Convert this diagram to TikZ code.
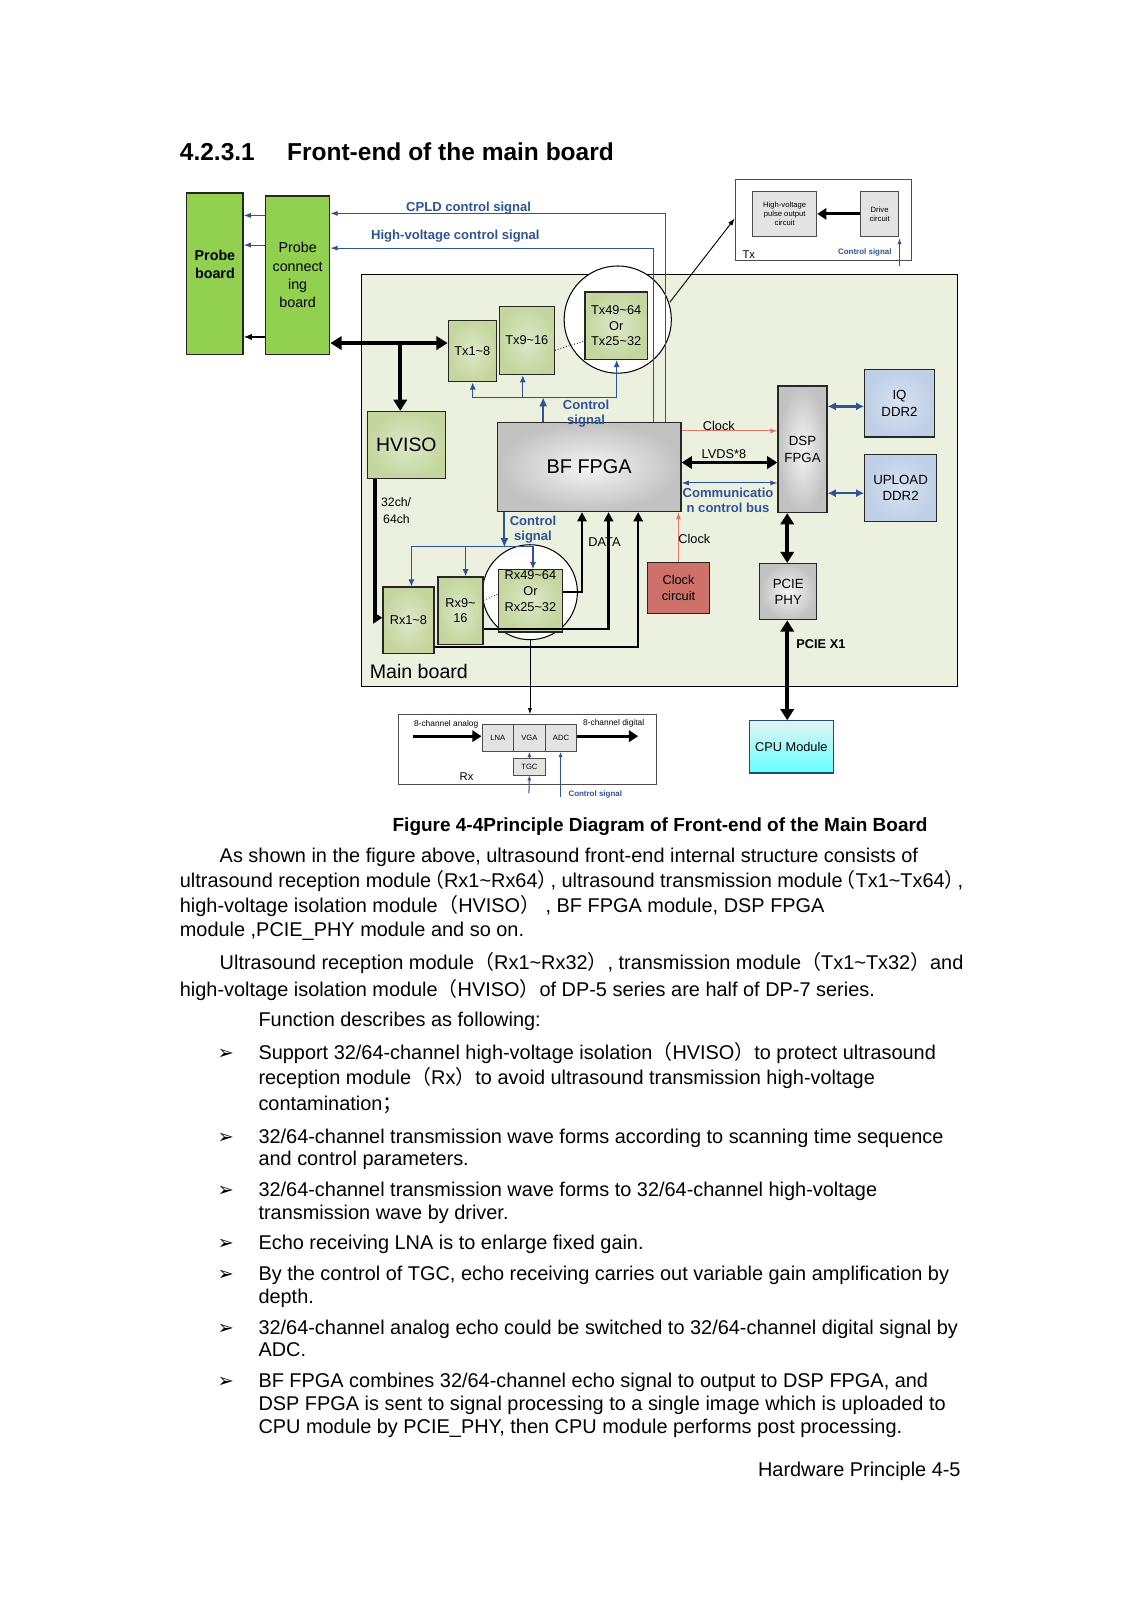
\documentclass[tikz,border=0pt]{standalone}
\usepackage{fontspec}
\setmainfont{Liberation Sans}
\newfontfamily\cjk{Noto Sans CJK SC}
\newfontfamily\dejavu{DejaVu Sans}
\usetikzlibrary{arrows.meta}
\newcommand\fs[2]{\fontsize{#1}{#2}\selectfont}
\newcommand\tld{\textasciitilde}
\newcommand\lp{{\cjk （}}
\newcommand\rp{{\cjk ）}}
\newcommand\lpt{{\cjk\kern-0.35em （}}
\newcommand\rpt{{\cjk ）\kern-0.35em}}
\newcommand\scl{{\cjk ；}}
\newcommand\bx[7]{\node[#6, minimum width={(#4)-(#2)}, minimum height={(#5)-(#3)}] (#1) at ({((#2)+(#4))/2},{((#3)+(#5))/2}) {#7};}
\definecolor{sigblue}{RGB}{47,84,150}
\definecolor{pgreen}{RGB}{146,208,80}
\definecolor{oin}{RGB}{222,232,203}
\definecolor{oout}{RGB}{196,214,158}
\definecolor{mainbg}{RGB}{235,241,222}
\definecolor{clkred}{RGB}{206,113,106}
\definecolor{clkline}{RGB}{222,120,110}
\definecolor{ddrin}{RGB}{216,227,242}
\definecolor{ddrout}{RGB}{190,207,230}
\definecolor{cputop}{RGB}{226,244,244}
\definecolor{cpubot}{RGB}{100,255,255}
\definecolor{cpuline}{RGB}{31,73,125}
\begin{document}
\begin{tikzpicture}[x=1pt,y=-1pt,
  blk/.style={draw=black!85, line width=1.2, inner sep=1pt, align=center, font=\fs{12.5}{15.5}},
  ol/.style={blk, inner color=oin, outer color=oout},
  gr/.style={blk, inner color=gray!8, outer color=gray!48},
  pg/.style={blk, fill=pgreen, font=\fs{14}{18}},
  ddr/.style={blk, inner color=ddrin, outer color=ddrout, font=\fs{13}{16}},
  small/.style={draw=black!70, line width=0.8, fill=gray!22, inner sep=0.5pt, align=center, font=\fs{7.5}{9}},
  lab/.style={inner sep=0, align=center, font=\fs{12.5}{15}},
  blab/.style={inner sep=0, align=center, font=\fs{12.8}{15}\bfseries, text=sigblue},
  bl/.style={draw=sigblue, line width=1},
  blk2/.style={draw=black, line width=1.1},
  thk/.style={draw=black, line width=3.5},
  ah/.tip={Triangle[width=13pt,length=11pt]},
  bodytxt/.style={inner sep=0, anchor=base west, font=\fs{19.5}{23}},
  bul/.style={inner sep=0, anchor=base west, font=\dejavu\fs{19}{22}}]
\path[use as bounding box, fill=white] (0,0) rectangle (1109,1568);

% heading
\node[inner sep=0, anchor=base west, font=\fs{24}{28}\bfseries] (h1) at (176,157.5) {4.2.3.1};
\node[inner sep=0, anchor=base west, font=\fs{24}{28}\bfseries] (h2) at (281,157.5) {Front-end of the main board};

% main board
\bx{mb}{354}{269}{938}{672}{draw=black, line width=1.1, fill=mainbg}{}
\node[inner sep=0, anchor=west, font=\fs{19.2}{22}] (mbl) at (362,658) {Main board};

% probe boards
\bx{pb}{183}{189}{238}{347}{pg}{}
\node[inner sep=0, align=center, font=\fs{14}{18}\bfseries] (pbl) at (210.5,259) {Probe\\board};
\bx{pcb}{260}{192}{323}{347}{pg}{Probe\\connect\\ing\\board}

% Tx detail box
\bx{txb}{720}{176}{893}{255}{draw=black!70, line width=0.9, fill=white}{}
\bx{hvp}{737}{187}{800}{232}{small}{High-voltage\\pulse output\\circuit}
\bx{drv}{843}{187}{880}{232}{small}{Drive\\circuit}
\draw[line width=3, -{Triangle[width=11pt,length=9pt]}] (drv.west) -- (hvp.east);
\node[inner sep=0, anchor=west, font=\fs{11}{13}] (txl) at (727,249) {Tx};
\node[inner sep=0, font=\fs{7.8}{9}\bfseries, text=sigblue] (txcs) at (847,247) {Control signal};
\coordinate (txcin) at (881,261);
\draw[bl, -{Latex[length=6pt,width=4pt]}] (txcin) -- (881,233);

% Tx blocks
\node[draw=black, line width=1, fill=white, circle, minimum size=105, inner sep=0] (txc) at (605,313) {};
\bx{tx1}{439}{314}{486}{374}{ol}{Tx1\tld8}
\bx{tx9}{489}{300}{543}{367}{ol}{Tx9\tld16}
\bx{tx49}{573}{286}{634}{352}{ol}{Tx49\tld64\\Or\\Tx25\tld32}
\draw[black, line width=0.8, dotted] (tx9.east |- 0,343) -- (tx49.west |- 0,334);
\coordinate (txcl) at (656,296);
\draw[black, line width=0.9, -{Latex[length=7pt,width=5pt]}] (txcl) -- (txb.west |- 0,214);

% HVISO, BF FPGA
\bx{hviso}{360}{403}{436}{469}{ol, font=\fs{19}{22}}{HVISO}
\bx{bf}{487}{414}{667}{501}{gr, font=\fs{19.5}{22}}{BF FPGA}
\bx{dsp}{762}{378}{810}{502}{gr, font=\fs{13}{16}}{DSP\\FPGA}
\bx{iq}{847}{362}{915}{428}{ddr}{IQ\\DDR2}
\bx{upd}{847}{445}{917}{511}{ddr}{UPLOAD\\DDR2}
\bx{clk}{634}{551}{695}{601}{blk, fill=clkred}{Clock\\circuit}
\bx{pcie}{744}{552}{800}{607}{gr, font=\fs{13}{16}}{PCIE\\PHY}
\bx{cpu}{734}{706}{816}{757}{draw=cpuline, line width=1.2, top color=cputop, bottom color=cpubot, inner sep=0, font=\fs{12.5}{15}}{CPU Module}

% Rx blocks
\node[draw=black, line width=1, fill=white, circle, minimum size=93, inner sep=0] (rxc) at (519,580) {};
\bx{rx1}{375}{575}{425}{640}{ol}{Rx1\tld8}
\bx{rx9}{429}{565}{473}{631}{ol}{Rx9\tld\\16}
\bx{rx49}{488}{558}{551}{619}{ol}{}
\node[inner sep=0, align=center, font=\fs{12.5}{15.5}] (rx49l) at (519.5,579) {Rx49\tld64\\Or\\Rx25\tld32};
\draw[black, line width=0.8, dotted] (rx9.east |- 0,588) -- (rx49.west |- 0,582);

% probe links
\draw[bl, -{Latex[length=7pt,width=5pt]}] (pcb.west |- 0,211) -- (pb.east |- 0,211);
\draw[bl, -{Latex[length=7pt,width=5pt]}] (pcb.west |- 0,240) -- (pb.east |- 0,240);
\draw[blk2, -{Latex[length=8pt,width=6pt]}] (pcb.west |- 0,330) -- (pb.east |- 0,330);

% CPLD and HV control signals
\draw[bl, -{Latex[length=7pt,width=5pt]}] (bf.north -| 652,0) -- (652,209) -- (pcb.east |- 0,209);
\draw[bl, -{Latex[length=7pt,width=5pt]}] (bf.north -| 640,0) -- (640,243) -- (pcb.east |- 0,243);
\node[blab] (cpl) at (459,203.5) {CPLD control signal};
\node[blab] (hvl) at (446,231) {High-voltage control signal};

% thick bus to Tx and HVISO
\draw[thk, ah-ah] (pcb.east |- 0,336) -- (tx1.west |- 0,336);
\coordinate (brn) at (392,336);
\draw[thk, -ah] (brn) -- (hviso.north -| brn);

% Tx control signal
\draw[bl, line width=2, -{Latex[length=9pt,width=8pt]}] (bf.north -| 532,0) -- (532,389);
\draw[bl, {Latex[length=7pt,width=6pt]}-{Latex[length=7pt,width=6pt]}] (tx1.south -| 463,0) |- (604,389) -- (tx49.south -| 604,0);
\draw[bl, -{Latex[length=7pt,width=6pt]}] (512,389) -- (tx9.south -| 512,0);
\node[blab] (tcs) at (574,405) {Control\\signal};

% BF <-> DSP
\draw[draw=clkline, line width=1, -{Latex[length=7pt,width=5pt]}] (bf.east |- 0,422) -- (dsp.west |- 0,422);
\node[lab] (clk1) at (704,417) {Clock};
\draw[black, line width=3, {Triangle[width=12pt,length=10pt]}-{Triangle[width=12pt,length=10pt]}] (bf.east |- 0,453) -- (dsp.west |- 0,453);
\node[lab] (lvds) at (709,445) {LVDS*8};
\draw[bl, {Latex[length=7pt,width=5pt]}-{Latex[length=7pt,width=5pt]}] (bf.east |- 0,473) -- (dsp.west |- 0,473);
\node[blab] (ccb) at (713,490) {Communicatio\\n control bus};

% DSP <-> DDR
\draw[bl, line width=2.2, {Latex[length=8pt,width=8pt]}-{Latex[length=8pt,width=8pt]}] (dsp.east |- 0,398) -- (iq.west |- 0,398);
\draw[bl, line width=2.2, {Latex[length=8pt,width=8pt]}-{Latex[length=8pt,width=8pt]}] (dsp.east |- 0,483) -- (upd.west |- 0,483);

% DSP <-> PCIE <-> CPU
\draw[thk, ah-ah] (dsp.south -| 771,0) -- (pcie.north -| 771,0);
\draw[thk, ah-ah] (pcie.south -| 771,0) -- (cpu.north -| 771,0);
\node[inner sep=0, font=\fs{12.5}{15}\bfseries] (px1) at (804,631) {PCIE X1};

% clock circuit
\draw[draw=clkline, line width=1, -{Latex[length=7pt,width=5pt]}] (clk.north) -- (bf.south -| clk.north);
\node[lab] (clk2) at (680,528) {Clock};

% HVISO -> Rx
\draw[thk, -{Triangle[width=11pt,length=9pt]}] (hviso.south -| 367,0) |- (rx1.west |- 0,605);
\node[inner sep=0, align=left, font=\fs{12}{16}] (chl) at (388,500) {32ch/\\\,64ch};

% Rx control signal
\draw[bl, line width=2, -{Latex[length=9pt,width=8pt]}] (bf.south -| 494,0) -- (494,536);
\draw[bl, {Latex[length=7pt,width=6pt]}-{Latex[length=7pt,width=6pt]}] (rx1.north -| 403,0) |- (522,535) -- (rx49.north -| 522,0);
\draw[bl, -{Latex[length=7pt,width=6pt]}] (456,535) -- (rx9.north -| 456,0);
\node[blab] (rcs) at (522,519) {Control\\signal};

% DATA lines
\draw[black, line width=2.2, -{Triangle[width=9pt,length=9pt]}] (rx49.east |- 0,580) -| (bf.south -| 570,0);
\draw[black, line width=2.2, -{Triangle[width=9pt,length=9pt]}] (rx9.east |- 0,616) -| (bf.south -| 596,0);
\draw[black, line width=2.2, -{Triangle[width=9pt,length=9pt]}] (rx1.east |- 0,634) -| (bf.south -| 625,0);
\node[lab] (data) at (592,531) {DATA};

% Rx detail box
\bx{rxb}{390}{700}{643}{768}{draw=black!70, line width=0.9, fill=white}{}
\draw[black, line width=0.8, -{Latex[length=6pt,width=4pt]}] (rxc.south) -- (rxb.north -| rxc.south);
\bx{lna}{472}{709}{503}{736}{small}{LNA}
\bx{vga}{503}{709}{534}{736}{small}{VGA}
\bx{adc}{534}{709}{565}{736}{small}{ADC}
\bx{tgc}{503}{743}{534}{759}{small}{TGC}
\coordinate (ain) at (404,721);
\coordinate (dout) at (625,721);
\draw[line width=3, -{Triangle[width=11pt,length=9pt]}] (ain) -- (lna.west |- ain);
\draw[line width=3, -{Triangle[width=11pt,length=9pt]}] (adc.east |- dout) -- (dout);
\draw[bl, -{Latex[length=5pt,width=4pt]}] (tgc.north) -- (vga.south);
\coordinate (tgcin) at (518,777);
\draw[bl, -{Latex[length=5pt,width=4pt]}] (tgcin) -- (tgc.south);
\coordinate (adcin) at (549,781);
\draw[bl, -{Latex[length=5pt,width=4pt]}] (adcin) -- (adc.south -| adcin);
\node[inner sep=0, font=\fs{8.2}{9}] (ana) at (437,709) {8-channel analog};
\node[inner sep=0, font=\fs{8.2}{9}] (dig) at (601,708) {8-channel digital};
\node[inner sep=0, anchor=west, font=\fs{11}{13}] (rxl) at (450,761) {Rx};
\node[inner sep=0, font=\fs{7.8}{9}\bfseries, text=sigblue] (rxcs) at (583,778) {Control signal};

% caption
\node[inner sep=0, anchor=base, font=\fs{18.6}{22}\bfseries] (cap) at (646.5,814.5) {Figure 4-4Principle Diagram of Front-end of the Main Board};

% body text
\node[bodytxt] (l1) at (215,844.5) {As shown in the figure above, ultrasound front-end internal structure consists of};
\node[bodytxt] (l2) at (176,869) {ultrasound reception module\lpt Rx1\tld Rx64\rpt, ultrasound transmission module\lpt Tx1\tld Tx64\rpt,};
\node[bodytxt] (l3) at (176,893.5) {high-voltage isolation module {\cjk\kern-0.25em （}HVISO\rp{} , BF FPGA module, DSP FPGA};
\node[bodytxt] (l4) at (176,917.5) {module ,PCIE\_PHY module and so on.};
\node[bodytxt] (l5) at (215,949.5) {Ultrasound reception module\lp Rx1\tld Rx32\rp, transmission module\lp Tx1\tld Tx32\rp and};
\node[bodytxt] (l6) at (176,975.5) {high-voltage isolation module\lp HVISO\rp of DP-5 series are half of DP-7 series.};
\node[bodytxt] (l7) at (253,1005.5) {Function describes as following:};

\node[bul] (m1) at (213,1037.5) {➢};
\node[bodytxt] (b1a) at (253,1037.5) {Support 32/64-channel high-voltage isolation\lp HVISO\rp to protect ultrasound};
\node[bodytxt] (b1b) at (253,1062.5) {reception module\lp Rx\rp to avoid ultrasound transmission high-voltage};
\node[bodytxt] (b1c) at (253,1087.5) {contamination\scl};
\node[bul] (m2) at (213,1119.5) {➢};
\node[bodytxt] (b2a) at (253,1119.5) {32/64-channel transmission wave forms according to scanning time sequence};
\node[bodytxt] (b2b) at (253,1141.5) {and control parameters.};
\node[bul] (m3) at (213,1171.5) {➢};
\node[bodytxt] (b3a) at (253,1171.5) {32/64-channel transmission wave forms to 32/64-channel high-voltage};
\node[bodytxt] (b3b) at (253,1194.5) {transmission wave by driver.};
\node[bul] (m4) at (213,1223.5) {➢};
\node[bodytxt] (b4a) at (253,1223.5) {Echo receiving LNA is to enlarge fixed gain.};
\node[bul] (m5) at (213,1254.5) {➢};
\node[bodytxt] (b5a) at (253,1254.5) {By the control of TGC, echo receiving carries out variable gain amplification by};
\node[bodytxt] (b5b) at (253,1276.5) {depth.};
\node[bul] (m6) at (213,1306.5) {➢};
\node[bodytxt] (b6a) at (253,1306.5) {32/64-channel analog echo could be switched to 32/64-channel digital signal by};
\node[bodytxt] (b6b) at (253,1328.5) {ADC.};
\node[bul] (m7) at (213,1358.5) {➢};
\node[bodytxt] (b7a) at (253,1358.5) {BF FPGA combines 32/64-channel echo signal to output to DSP FPGA, and};
\node[bodytxt] (b7b) at (253,1381.5) {DSP FPGA is sent to signal processing to a single image which is uploaded to};
\node[bodytxt] (b7c) at (253,1403.5) {CPU module by PCIE\_PHY, then CPU module performs post processing.};

\node[inner sep=0, anchor=base east, font=\fs{19.5}{23}] (foot) at (941,1446.5) {Hardware Principle 4-5};
\end{tikzpicture}
\end{document}
